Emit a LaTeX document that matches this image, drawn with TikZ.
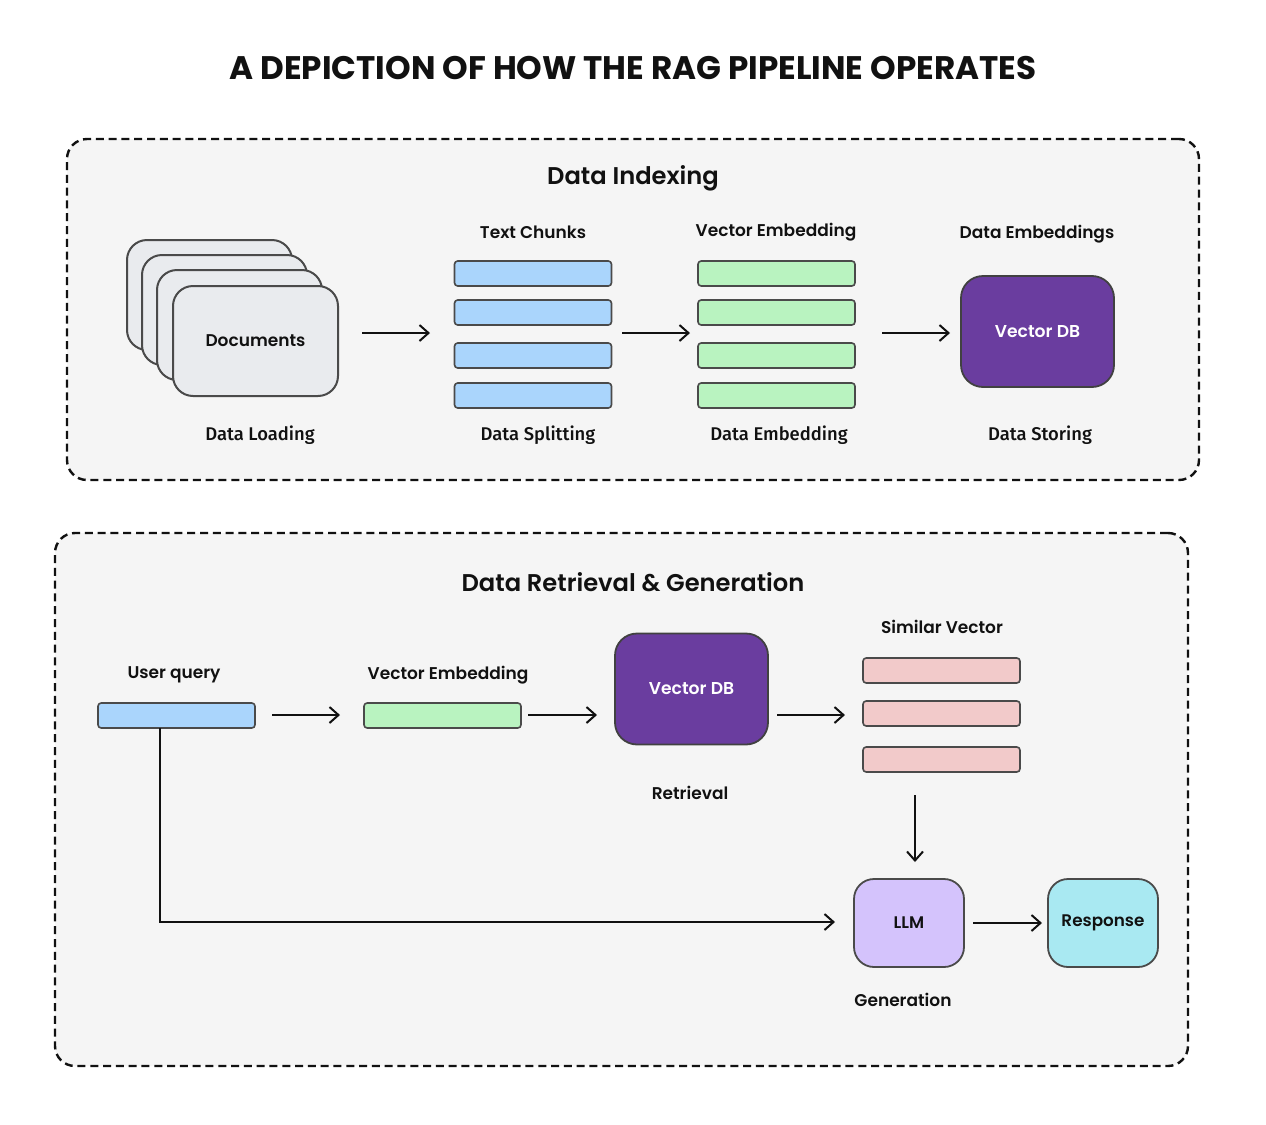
\documentclass[tikz,border=0pt]{standalone}
\usepackage{fontspec}
\usetikzlibrary{arrows.meta}
\newfontfamily\pop{Poppins SemiBold}
\newfontfamily\popb{Poppins Bold}
\newfontfamily\din{Fira Sans}[UprightFont={* Medium}]
\definecolor{panelbg}{HTML}{F5F5F5}
\definecolor{docfill}{HTML}{E9EBEE}
\definecolor{edge}{HTML}{4A4A4A}
\definecolor{bluebar}{HTML}{AAD5FC}
\definecolor{greenbar}{HTML}{B9F3C0}
\definecolor{pinkbar}{HTML}{F2CACA}
\definecolor{purpledb}{HTML}{6A3D9F}
\definecolor{llmfill}{HTML}{D4C3FC}
\definecolor{respfill}{HTML}{A9E9F2}
\definecolor{ink}{HTML}{111111}
\begin{document}
\begin{tikzpicture}[x=0.5pt,y=-0.5pt,
  panel/.style={draw=ink, line width=1.2pt, dash pattern=on 4pt off 2.4pt, fill=panelbg, rounded corners=10pt},
  doc/.style={draw=edge, line width=1pt, fill=docfill, rounded corners=10pt, minimum width=82.5pt, minimum height=55pt, inner sep=0pt},
  bar/.style={draw=edge, line width=0.8pt, rounded corners=1.6pt, minimum width=78.5pt, minimum height=12.5pt, inner sep=0pt},
  dbbox/.style={draw=ink!80, line width=0.9pt, fill=purpledb, rounded corners=11pt, minimum width=76.5pt, minimum height=55.5pt, inner sep=0pt, text=white, font=\pop\fontsize{8.6}{10}\selectfont},
  genbox/.style={draw=edge, line width=0.9pt, rounded corners=10pt, minimum width=55pt, minimum height=44pt, inner sep=0pt, text=ink, font=\pop\fontsize{8.4}{10}\selectfont},
  head/.style={text=ink, font=\pop\fontsize{8.5}{10}\selectfont, inner sep=0pt},
  sub/.style={text=ink, font=\din\fontsize{9.2}{11}\selectfont, inner sep=0pt},
  ptitle/.style={text=ink, font=\pop\fontsize{12.1}{14}\selectfont, inner sep=0pt},
  flow/.style={draw=ink, line width=1pt, -{Straight Barb[length=4.5pt,width=8pt,line width=1pt]}},
]
\useasboundingbox[fill=white] (0,0) rectangle (1266,1125);
% title
\node[text=ink, font=\popb\fontsize{16.3}{19}\selectfont, inner sep=0pt] (title) at (633,68) {A DEPICTION OF HOW THE RAG PIPELINE OPERATES};
% panels
\node[panel, minimum width=566pt, minimum height=170.5pt, inner sep=0pt] (p1) at (633,309.5) {};
\node[panel, minimum width=566.5pt, minimum height=266.5pt, inner sep=0pt] (p2) at (621.5,799.5) {};
\node[ptitle] (t1) at (633,178) {Data Indexing};
\node[ptitle] (t2) at (633,582) {Data Retrieval \& Generation};
% documents stack
\node[doc] (d1) at (209.5,295) {};
\node[doc] (d2) at (224.5,310) {};
\node[doc] (d3) at (239.5,325) {};
\node[doc, font=\pop\fontsize{8.5}{10}\selectfont, text=ink] (docs) at (255.5,341) {Documents};
\node[sub] (lload) at (260,435) {Data Loading};
% text chunks
\node[head] (ltc) at (533,232) {Text Chunks};
\node[bar, fill=bluebar] (c1) at (533,273.5) {};
\node[bar, fill=bluebar] (c2) at (533,312.5) {};
\node[bar, fill=bluebar] (c3) at (533,355.5) {};
\node[bar, fill=bluebar] (c4) at (533,395.5) {};
\node[sub] (lsplit) at (538,435) {Data Splitting};
% embeddings
\node[head] (lve) at (776,232) {Vector Embedding};
\node[bar, fill=greenbar] (e1) at (776.5,273.5) {};
\node[bar, fill=greenbar] (e2) at (776.5,312.5) {};
\node[bar, fill=greenbar] (e3) at (776.5,355.5) {};
\node[bar, fill=greenbar] (e4) at (776.5,395.5) {};
\node[sub] (lemb) at (779,435) {Data Embedding};
% vector db
\node[head] (lde) at (1037,234) {Data Embeddings};
\node[dbbox] (db1) at (1037.5,331.5) {Vector DB};
\node[sub] (lstore) at (1040,435) {Data Storing};
% arrows top
\coordinate (a1s) at (362,333); \coordinate (a1e) at (430,333);
\coordinate (a2s) at (622,333); \coordinate (a2e) at (690,333);
\coordinate (a3s) at (882,333); \coordinate (a3e) at (950,333);
\draw[flow] (a1s) -- (a1e);
\draw[flow] (a2s) -- (a2e);
\draw[flow] (a3s) -- (a3e);
% bottom
\node[head] (luq) at (174,675) {User query};
\node[bar, fill=bluebar] (uq) at (176.5,715.5) {};
\node[head] (lve2) at (448,675) {Vector Embedding};
\node[bar, fill=greenbar] (ve) at (442.5,715.5) {};
\node[dbbox] (db2) at (691.5,689) {Vector DB};
\node[head] (lret) at (690,793) {Retrieval};
\node[head] (lsim) at (942,627) {Similar Vector};
\node[bar, fill=pinkbar] (s1) at (941.5,670.5) {};
\node[bar, fill=pinkbar] (s2) at (941.5,713.5) {};
\node[bar, fill=pinkbar] (s3) at (941.5,759.5) {};
\node[genbox, fill=llmfill] (llm) at (909,923) {LLM};
\node[head] (lgen) at (903,1000) {Generation};
\node[genbox, fill=respfill] (resp) at (1103,923) {Response};
\coordinate (b1s) at (272,715); \coordinate (b1e) at (340,715);
\coordinate (b2s) at (528,715); \coordinate (b2e) at (597,715);
\coordinate (b3s) at (777,715); \coordinate (b3e) at (845,715);
\coordinate (b4s) at (915,795); \coordinate (b4e) at (915,862);
\coordinate (b5s) at (973,923); \coordinate (b5e) at (1042,923);
\coordinate (uqdown) at (160,728); \coordinate (corner) at (160,922); \coordinate (b6e) at (835,922);
\draw[flow] (b1s) -- (b1e);
\draw[flow] (b2s) -- (b2e);
\draw[flow] (b3s) -- (b3e);
\draw[flow] (b4s) -- (b4e);
\draw[flow] (b5s) -- (b5e);
\draw[flow] (uqdown) -- (corner) -- (b6e);
\end{tikzpicture}
\end{document}
